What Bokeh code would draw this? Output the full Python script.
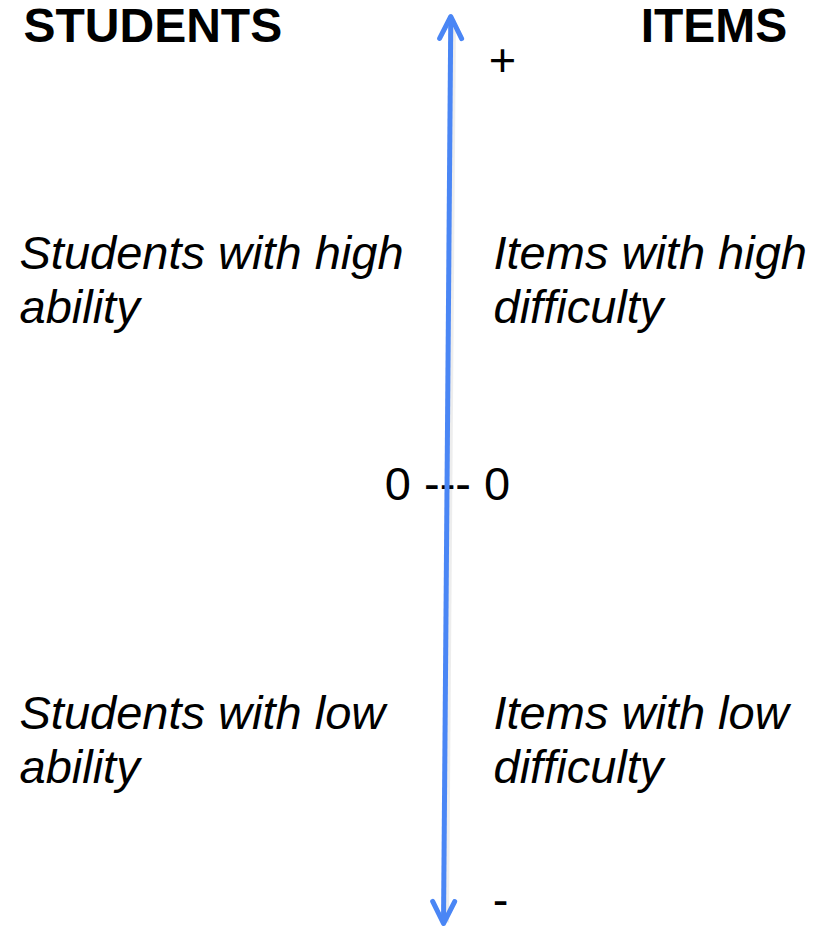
from bokeh.plotting import figure
from bokeh.models import Range1d, Arrow, OpenHead, ColumnDataSource
from bokeh.core.properties import value
from bokeh.embed import file_html
from bokeh.resources import INLINE

# ---- content ----
headers = ["STUDENTS", "ITEMS"]
student_lines = ["Students with high", "ability", "Students with low", "ability"]
item_lines = ["Items with high", "difficulty", "Items with low", "difficulty"]
scale_labels = ["+", "0 --- 0", "-"]

# ---- layout (screen-like pixel coordinates, y downwards) ----
W, H = 817, 927
FONT = "Liberation Sans"
FS = "47px"
HFS = "48px"
ARROW_COLOR = "#4A86F5"
BL = -18  # baseline correction for text placement

p = figure(width=W, height=H, output_backend="svg", toolbar_location=None,
           x_range=Range1d(0, W), y_range=Range1d(H, 0),
           min_border=0, outline_line_color=None)
p.axis.visible = False
p.grid.visible = False
p.background_fill_color = "white"
p.border_fill_color = "white"

# arrow shadow
p.segment(x0=[452.5], y0=[20], x1=[445.5], y1=[922], line_color="black",
          line_alpha=0.07, line_width=6)

# double-headed arrow
head_kw = dict(size=22, line_color=ARROW_COLOR, line_width=5,
               line_cap="round", line_join="round")
arrow = Arrow(x_start=443, y_start=923, x_end=450.3, y_end=16,
              line_color=ARROW_COLOR, line_width=5,
              start=OpenHead(**head_kw), end=OpenHead(**head_kw))
p.add_layout(arrow)

# headers
p.text(x=[23], y=[43 + BL], text=headers[:1], text_font=value(FONT),
       text_font_size=HFS, text_font_style="bold", text_color="black",
       text_baseline="alphabetic", text_align="left")
p.text(x=[713.5], y=[43 + BL], text=headers[1:], text_font=value(FONT),
       text_font_size=HFS, text_font_style="bold", text_color="black",
       text_baseline="alphabetic", text_align="center")

# descriptions
rows = [270, 324, 730, 784]
ssrc = ColumnDataSource(dict(x=[19] * 4, y=[r + BL for r in rows], t=student_lines))
p.text(x="x", y="y", text="t", source=ssrc, text_font=value(FONT),
       text_font_size=FS, text_font_style="italic", text_color="black",
       text_baseline="alphabetic", text_align="left")
isrc = ColumnDataSource(dict(x=[493] * 4, y=[r + BL for r in rows], t=item_lines))
p.text(x="x", y="y", text="t", source=isrc, text_font=value(FONT),
       text_font_size=FS, text_font_style="italic", text_color="black",
       text_baseline="alphabetic", text_align="left")

# scale marks
csrc = ColumnDataSource(dict(x=[502, 447, 500], y=[77 + BL, 501 + BL, 917 + BL], t=scale_labels))
p.text(x="x", y="y", text="t", source=csrc, text_font=value(FONT),
       text_font_size=FS, text_color="black",
       text_baseline="alphabetic", text_align="center")

open("out.html", "w").write(file_html(p, INLINE))
